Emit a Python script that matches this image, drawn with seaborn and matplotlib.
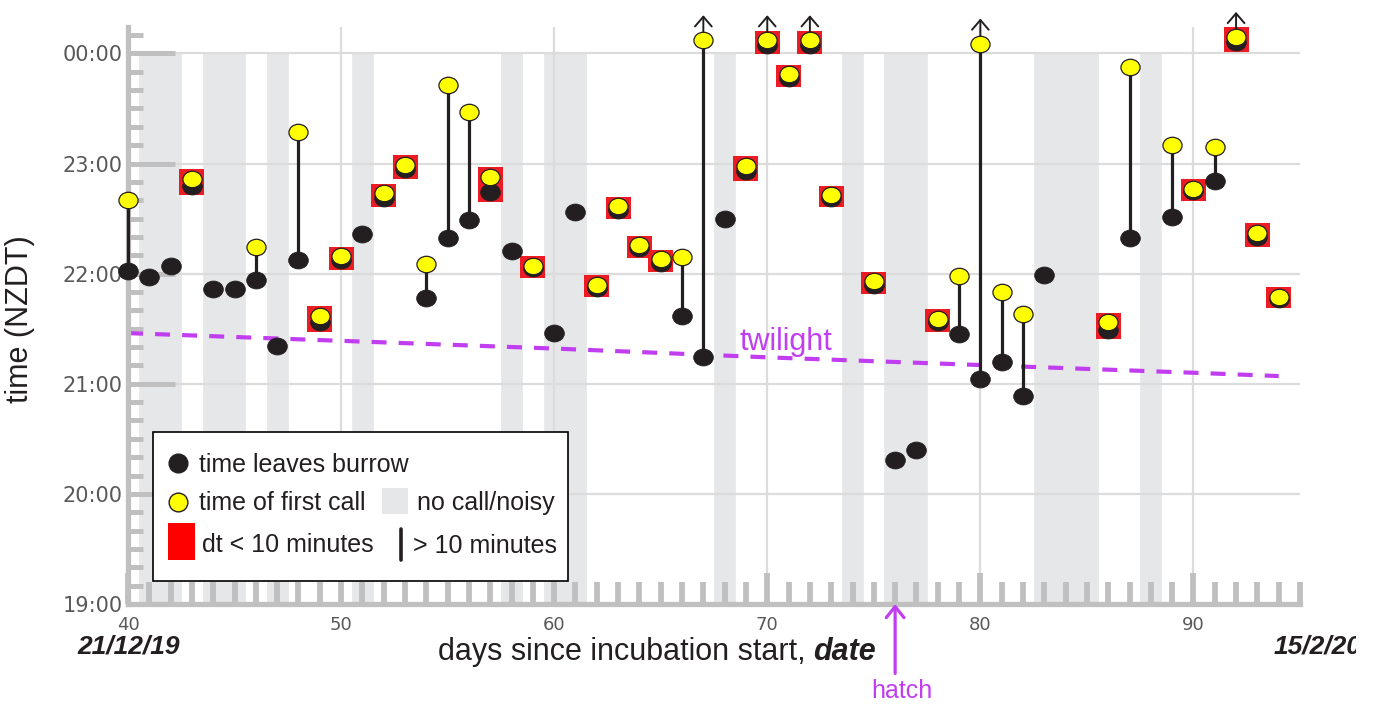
import numpy as np
import pandas as pd
import matplotlib
matplotlib.use("Agg")
import matplotlib.pyplot as plt
import seaborn as sns
from matplotlib.path import Path
from matplotlib.transforms import Affine2D, Bbox
from matplotlib.patches import Rectangle
from matplotlib.lines import Line2D
from matplotlib.ticker import MultipleLocator, FixedLocator, FixedFormatter

nan = np.nan

# ---------------- data ----------------
days = [40, 41, 42, 43, 44, 45, 46, 47, 48, 49, 50, 51, 52, 53, 54, 55, 56, 57, 58, 59,
        60, 61, 62, 63, 64, 65, 66, 67, 68, 69, 70, 71, 72, 73, 75, 76, 77, 78, 79, 80,
        81, 82, 83, 86, 87, 89, 90, 91, 92, 93, 94]
leave_time = [22.02, 21.97, 22.07, 22.80, 21.86, 21.86, 21.94, 21.34, 22.12, 21.56,
              22.12, 22.36, 22.69, 22.95, 21.78, 22.32, 22.49, 22.74, 22.21, 22.05,
              21.46, 22.56, 21.87, 22.58, 22.23, 22.10, 21.62, 21.24, 22.50, 22.93,
              24.08, 23.78, 24.08, 22.69, 21.90, 20.31, 20.40, 21.56, 21.45, 21.04,
              21.20, 20.89, 21.99, 21.49, 22.32, 22.51, 22.75, 22.84, 24.10, 22.33,
              21.77]
call_time = [22.67, nan, nan, 22.86, nan, nan, 22.24, nan, 23.29, 21.62,
             22.16, nan, 22.73, 22.99, 22.09, 23.71, 23.47, 22.88, nan, 22.07,
             nan, nan, 21.90, 22.61, 22.26, 22.13, 22.15, 24.12, nan, 22.98,
             24.12, 23.81, 24.12, 22.71, 21.93, nan, nan, 21.59, 21.98, 24.09,
             21.83, 21.63, nan, 21.56, 23.88, 23.17, 22.77, 23.15, 24.15, 22.37,
             21.79]
offscale_days = [67, 70, 72, 80, 92]
noisy_days = [41, 42, 44, 45, 47, 51, 58, 60, 61, 68, 74, 76, 77, 83, 84, 85, 88]
twilight_days = [40, 50, 60, 70, 80, 90, 94]
twilight_time = [21.46, 21.39, 21.32, 21.24, 21.17, 21.10, 21.07]
hatch_day = 76
y_ticks = [19, 20, 21, 22, 23, 24]
y_tick_labels = ["19:00", "20:00", "21:00", "22:00", "23:00", "00:00"]
x_ticks = [40, 50, 60, 70, 80, 90]
x_tick_labels = ["40", "50", "60", "70", "80", "90"]
start_date = "21/12/19"
end_date = "15/2/20"

df = pd.DataFrame({"day": days, "leave": leave_time, "call": call_time})
df["dt"] = (df["call"] - df["leave"]).abs() * 60
short = df[df["dt"] < 10]
long_ = df[df["dt"] >= 10]
calls = df.dropna(subset=["call"])

# ---------------- style ----------------
sns.set_style("white")
plt.rcParams["font.family"] = ["Liberation Sans", "DejaVu Sans"]

BLACK = "#231f20"
YELLOW = "#ffff00"
RED = "#ed1c24"
BAND = "#e6e7e8"
GRID = "#dcdcdc"
AXIS = "#c0c0c0"
PURPLE = "#c13ef0"
TICKLBL = "#595959"

W, H = 1375, 704
fig = plt.figure(figsize=(W / 100, H / 100), dpi=100)
ax = fig.add_axes([128 / W, 100 / H, 1172 / W, 577 / H])

ellipse = Affine2D().scale(1.0, 0.86).transform_path(Path.unit_circle())
rect = Path([(-0.5, -0.38), (0.5, -0.38), (0.5, 0.38), (-0.5, 0.38), (-0.5, -0.38)],
            [Path.MOVETO, Path.LINETO, Path.LINETO, Path.LINETO, Path.CLOSEPOLY])

# gray "no call / noisy" bands
ax.bar(noisy_days, [5] * len(noisy_days), bottom=19, width=1.0, color=BAND,
       edgecolor=BAND, linewidth=0.5, zorder=0.1)

# twilight
sns.lineplot(x=twilight_days, y=twilight_time, ax=ax, color=PURPLE, lw=3,
             dashes=False, zorder=2.5)
ax.lines[-1].set_dashes([3.6, 2.9])
ax.text(68.7, 21.31, "twilight", color=PURPLE, fontsize=22, ha="left", va="baseline", zorder=6)

# red squares for dt < 10 min
for col in ["call", "leave"]:
    sns.scatterplot(data=short, x="day", y=col, ax=ax, marker=rect, s=324, color=RED,
                    edgecolor="none", linewidth=0, legend=False, zorder=3, clip_on=False)

# connecting lines for dt > 10 min
ax.vlines(long_["day"], long_["leave"], long_["call"], color=BLACK, lw=2.3, zorder=3.5,
          clip_on=False)

# off-scale arrows
for d in offscale_days:
    yv = df.loc[df["day"] == d, "call"].iloc[0]
    ax.annotate("", xy=(d, yv), xytext=(0, 18), textcoords="offset points",
                arrowprops=dict(arrowstyle="<-, head_length=0.35, head_width=0.3",
                                color=BLACK, lw=1.4, shrinkA=0, shrinkB=0,
                                mutation_scale=20),
                annotation_clip=False, zorder=3.6)

sns.scatterplot(data=df, x="day", y="leave", ax=ax, marker=ellipse, s=200, color=BLACK,
                edgecolor=BLACK, linewidth=0.6, legend=False, zorder=4, clip_on=False)
sns.scatterplot(data=calls, x="day", y="call", ax=ax, marker=ellipse, s=190, color=YELLOW,
                edgecolor=BLACK, linewidth=0.9, legend=False, zorder=5, clip_on=False)

# hatch arrow
ax.annotate("", xy=(hatch_day, 19), xytext=(0, -50), textcoords="offset points",
            arrowprops=dict(arrowstyle="->, head_length=0.4, head_width=0.32",
                            color=PURPLE, lw=2.3, shrinkA=0, shrinkB=0, mutation_scale=20),
            annotation_clip=False)
ax.annotate("hatch", xy=(hatch_day, 19), xytext=(5, -67.5), textcoords="offset points",
            ha="center", va="baseline", color=PURPLE, fontsize=18, annotation_clip=False)

# ---------------- axes ----------------
ax.set_xlim(40, 95)
ax.set_ylim(19, 24.24)
ax.set_xlabel("")
ax.set_ylabel("")
for s in ["top", "right"]:
    ax.spines[s].set_visible(False)
for s in ["left", "bottom"]:
    ax.spines[s].set_color(AXIS)
    ax.spines[s].set_linewidth(3.8)

ax.yaxis.set_major_locator(FixedLocator(y_ticks))
ax.yaxis.set_major_formatter(FixedFormatter(y_tick_labels))
ax.yaxis.set_minor_locator(MultipleLocator(1 / 6))
ax.xaxis.set_major_locator(FixedLocator(x_ticks))
ax.xaxis.set_major_formatter(FixedFormatter(x_tick_labels))
ax.xaxis.set_minor_locator(MultipleLocator(1))

ax.tick_params(axis="y", which="both", left=True, right=False)
ax.tick_params(axis="x", which="both", bottom=True, top=False)
ax.tick_params(axis="y", which="major", direction="in", length=34, width=3.6, color=AXIS,
               labelsize=15, labelcolor=TICKLBL, pad=4)
ax.tick_params(axis="y", which="minor", direction="in", length=11, width=3.6, color=AXIS)
ax.tick_params(axis="x", which="major", direction="in", length=22, width=4.2, color=AXIS,
               labelsize=13, labelcolor=TICKLBL, pad=9)
ax.tick_params(axis="x", which="minor", direction="in", length=16, width=4.2, color=AXIS)
for lab in ax.get_xticklabels() + ax.get_yticklabels():
    lab.set_family("DejaVu Sans")

ax.set_axisbelow(True)
ax.grid(True, which="major", color=GRID, lw=1.6)

ax.set_ylabel("time (NZDT)", fontsize=22, color=BLACK)
ax.yaxis.set_label_coords((35 - 128) / 1172, (604 - 319) / 577)

# ---------------- manual legend ----------------
T = ax.transAxes
def axx(px):
    return (px - 128) / 1172
def axy(py):
    return (604 - py) / 577

ax.add_patch(Rectangle((axx(153), axy(581)), axx(568) - axx(153), axy(432) - axy(581),
                       transform=T, facecolor="white", edgecolor="black", lw=1.2,
                       zorder=10, clip_on=False))
ax.add_line(Line2D([axx(178)], [axy(463)], transform=T, marker="o", ms=13.5, color=BLACK,
                   mec=BLACK, ls="none", zorder=11))
ax.add_line(Line2D([axx(178)], [axy(502)], transform=T, marker="o", ms=13.5, color=YELLOW,
                   mec=BLACK, mew=1, ls="none", zorder=11))
ax.add_patch(Rectangle((axx(168.3), axy(560)), 27 / 1172, 37 / 577, transform=T,
                       facecolor="#ff0000", edgecolor="none", zorder=11))
ax.add_patch(Rectangle((axx(381.7), axy(514.3)), 26 / 1172, 26 / 577, transform=T,
                       facecolor=BAND, edgecolor="none", zorder=11))
ax.add_line(Line2D([axx(401), axx(401)], [axy(560), axy(529.3)], transform=T, color=BLACK,
                   lw=2.6, zorder=11))
leg_font = dict(fontsize=18, color=BLACK, va="baseline", ha="left", transform=T, zorder=11)
ax.text(axx(199), axy(471.7), "time leaves burrow", **leg_font)
ax.text(axx(199), axy(510), "time of first call", **leg_font)
ax.text(axx(416.7), axy(510), "no call/noisy", **leg_font)
ax.text(axx(201.7), axy(551.7), "dt < 10 minutes", **leg_font)
ax.text(axx(413.3), axy(553.3), "> 10 minutes", **leg_font)

# ---------------- x label and dates ----------------
renderer = fig.canvas.get_renderer()
t1 = fig.text(438 / W, 1 - 660 / H, "days since incubation start,", fontsize=22,
              color=BLACK, ha="left", va="baseline")
bb = t1.get_window_extent(renderer)
fig.text((bb.x1 + 8) / W, 1 - 660 / H, "date", fontsize=22, color=BLACK, ha="left",
         va="baseline", weight="bold", style="italic")

fig.text(77 / W, 1 - 653 / H, start_date, fontsize=19, weight="bold", style="italic",
         color=BLACK, ha="left", va="baseline")
t_end = fig.text(1274 / W, 1 - 653 / H, end_date, fontsize=19, weight="bold",
                 style="italic", color=BLACK, ha="left", va="baseline")
t_end.set_clip_on(True)
t_end.set_clip_box(Bbox.from_extents(0, 0, 1356, H))

fig.savefig("out.png", dpi=100)
